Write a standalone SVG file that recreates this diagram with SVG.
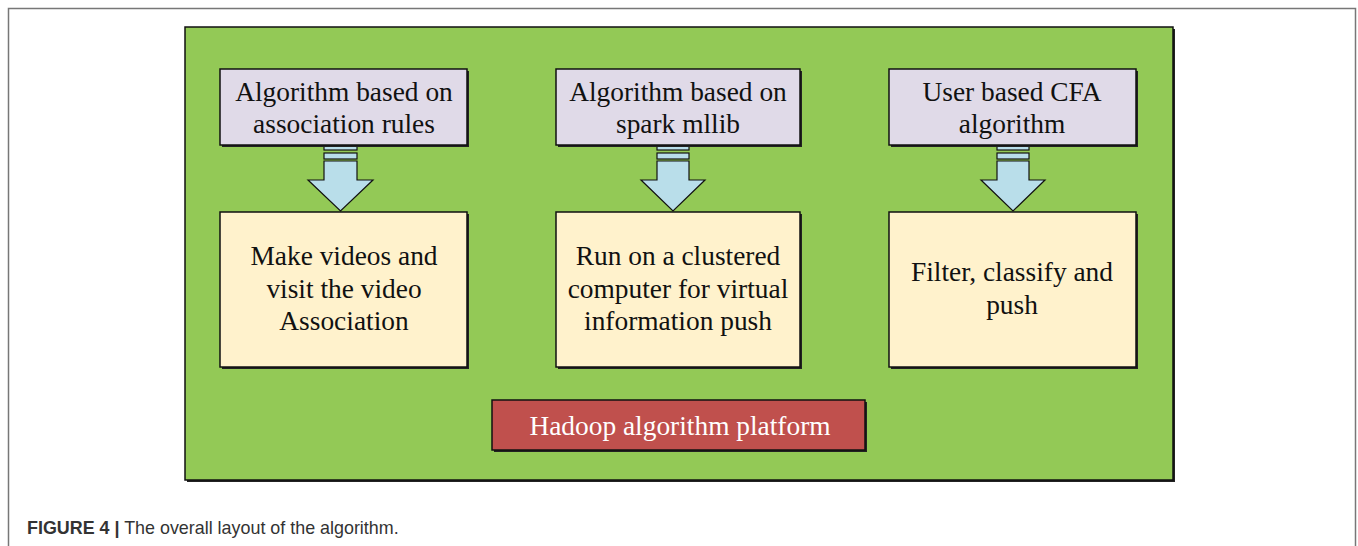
<svg xmlns="http://www.w3.org/2000/svg" width="1358" height="546" viewBox="0 0 1358 546">
<style>
.t{font-family:"Liberation Serif","Times New Roman",serif;font-size:27.4px;fill:#111;text-anchor:middle}
.box{stroke:#111;stroke-width:1.5}
.sh{fill:#222}
.top{fill:#E0DAE8}
.bot{fill:#FFF2CC}
.arr{fill:#B9DEEA;stroke:#111;stroke-width:1.2}
</style>
<rect width="1358" height="546" fill="#fff"/>
<path d="M8.5 546 V8.5 H1355.5 V546" fill="none" stroke="#777" stroke-width="1.5"/>
<g id="platform-bg">
<rect x="187" y="29" width="988" height="453" class="sh"/>
<rect x="185" y="27" width="988" height="453" fill="#93C956" class="box"/>
</g>
<g id="connectors">
<g id="arrow1">
<rect x="324" y="146" width="33" height="4" class="arr"/>
<rect x="324" y="153" width="33" height="6" class="arr"/>
<path d="M324 161 H357 V180 H373 L340.5 211 L308 180 H324 Z" class="arr"/>
</g>
<g id="arrow2">
<rect x="657" y="146" width="32" height="4" class="arr"/>
<rect x="657" y="153" width="32" height="6" class="arr"/>
<path d="M657 161 H689 V180 H705 L673 211 L641 180 H657 Z" class="arr"/>
</g>
<g id="arrow3">
<rect x="997" y="146" width="32" height="4" class="arr"/>
<rect x="997" y="153" width="32" height="6" class="arr"/>
<path d="M997 161 H1029 V180 H1045 L1013 211 L981 180 H997 Z" class="arr"/>
</g>
</g>
<g id="top1">
<rect x="222" y="71" width="247" height="76" class="sh"/>
<rect x="220" y="69" width="247" height="76" class="top box"/>
<text class="t" x="344" y="101">Algorithm based on</text>
<text class="t" x="344" y="133">association rules</text>
</g>
<g id="top2">
<rect x="558" y="71" width="244" height="76" class="sh"/>
<rect x="556" y="69" width="244" height="76" class="top box"/>
<text class="t" x="678" y="101">Algorithm based on</text>
<text class="t" x="678" y="133">spark mllib</text>
</g>
<g id="top3">
<rect x="891" y="71" width="247" height="76" class="sh"/>
<rect x="889" y="69" width="247" height="76" class="top box"/>
<text class="t" x="1012" y="101">User based CFA</text>
<text class="t" x="1012" y="133">algorithm</text>
</g>
<g id="bot1">
<rect x="222" y="214" width="247" height="155" class="sh"/>
<rect x="220" y="212" width="247" height="155" class="bot box"/>
<text class="t" x="344" y="265">Make videos and</text>
<text class="t" x="344" y="298">visit the video</text>
<text class="t" x="344" y="330">Association</text>
</g>
<g id="bot2">
<rect x="558" y="214" width="244" height="155" class="sh"/>
<rect x="556" y="212" width="244" height="155" class="bot box"/>
<text class="t" x="678" y="265">Run on a clustered</text>
<text class="t" x="678" y="298">computer for virtual</text>
<text class="t" x="678" y="330">information push</text>
</g>
<g id="bot3">
<rect x="891" y="214" width="247" height="155" class="sh"/>
<rect x="889" y="212" width="247" height="155" class="bot box"/>
<text class="t" x="1012" y="281">Filter, classify and</text>
<text class="t" x="1012" y="314">push</text>
</g>
<g id="hadoop">
<rect x="494" y="402" width="373" height="50" class="sh"/>
<rect x="492" y="400" width="373" height="50" fill="#C0504D" class="box"/>
<text class="t" x="680" y="435" style="fill:#fff">Hadoop algorithm platform</text>
</g>
<text x="27" y="534" font-family="Liberation Sans, Arial, sans-serif" font-size="17.9" fill="#333"><tspan font-weight="bold">FIGURE 4 |</tspan> The overall layout of the algorithm.</text>
</svg>
